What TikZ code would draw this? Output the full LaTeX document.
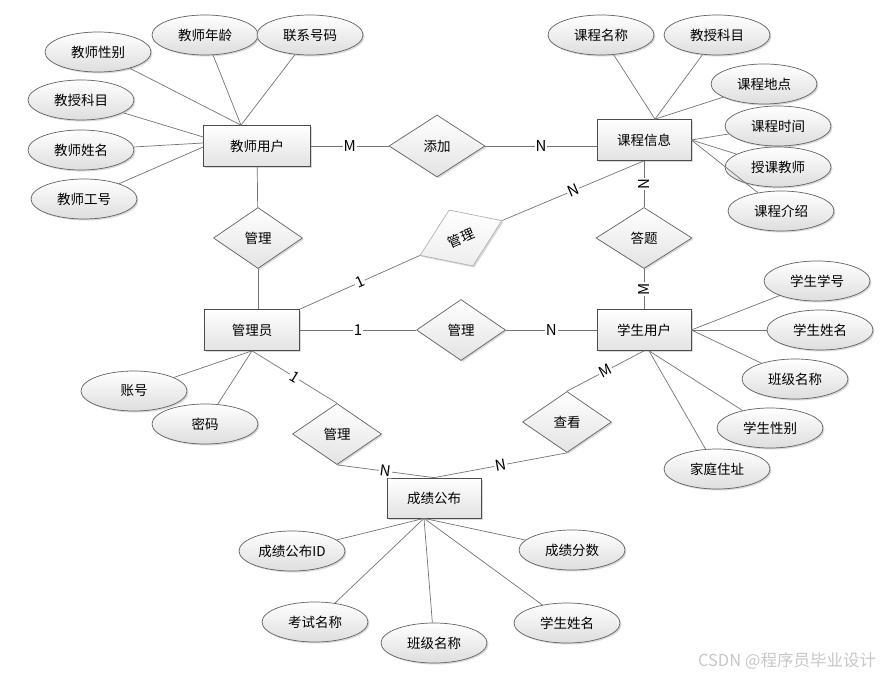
\documentclass[tikz,border=0pt]{standalone}
\usepackage{fontspec}
\setmainfont{Noto Sans CJK SC}
\usepackage{tikz}
\usetikzlibrary{shapes.geometric,shadows}

\begin{document}
\begin{tikzpicture}[x=1pt,y=-1pt,draw=black!55,line width=0.7pt,font=\fontsize{13.5}{16}\selectfont]
    \tikzstyle{shade}=[drop shadow={shadow xshift=1.5pt,shadow yshift=-1.5pt,opacity=0.25,fill=black!60}]
    \tikzstyle{entity}=[rectangle,draw=black!70,top color=white,bottom color=black!11,minimum width=94pt,minimum height=41pt,inner sep=0pt,shade]
    \tikzstyle{attr}=[ellipse,draw=black!62,top color=white,bottom color=black!13,minimum width=106pt,minimum height=40pt,inner sep=0pt,shade]
    \tikzstyle{relation}=[diamond,draw=black!62,top color=white,bottom color=black!11,minimum width=89pt,minimum height=61pt,inner sep=0pt,shade]
    \tikzstyle{card}=[midway,fill=white,inner sep=1pt,font=\fontsize{15}{15}\selectfont]

    \useasboundingbox (0,0) rectangle (881,676);

    % Draw the entities
    \node[entity, minimum width=107pt] (E-1) at (257,146) {教师用户};
    \node[entity] (E-2) at (644,140) {课程信息};
    \node[entity, minimum width=95pt] (E-3) at (252,330) {管理员};
    \node[entity] (E-4) at (644,330) {学生用户};
    \node[entity, minimum height=40pt] (E-5) at (434,498) {成绩公布};

    % Draw the relations
    \node[relation, minimum width=96pt, minimum height=62pt] (R-1) at (437,146) {添加};
    \node[relation] (R-2) at (258,238) {管理};
    \node[relation, rotate=23, draw=black!30, bottom color=black!7, drop shadow={opacity=0}] (R-3) at (461,238) {管理};
    \node[relation, minimum width=96pt] (R-4) at (644,238) {答题};
    \node[relation] (R-5) at (461,330) {管理};
    \node[relation] (R-6) at (337,434) {管理};
    \node[relation] (R-7) at (567,422) {查看};

    % Draw the attributes
    \node[attr] (A-11) at (98,52) {教师性别};
    \node[attr] (A-12) at (205,35) {教师年龄};
    \node[attr] (A-13) at (310,35) {联系号码};
    \node[attr] (A-14) at (81,100) {教授科目};
    \node[attr] (A-15) at (81,150) {教师姓名};
    \node[attr] (A-16) at (84,199) {教师工号};

    \node[attr] (A-21) at (601,35) {课程名称};
    \node[attr] (A-22) at (717,35) {教授科目};
    \node[attr] (A-23) at (764,84) {课程地点};
    \node[attr] (A-24) at (778,126) {课程时间};
    \node[attr] (A-25) at (778,167) {授课教师};
    \node[attr] (A-26) at (781,211) {课程介绍};

    \node[attr] (A-31) at (134,391) {账号};
    \node[attr] (A-32) at (205,424) {密码};

    \node[attr] (A-41) at (817,281) {学生学号};
    \node[attr] (A-42) at (820,330) {学生姓名};
    \node[attr] (A-43) at (795,379) {班级名称};
    \node[attr] (A-44) at (770,428) {学生性别};
    \node[attr] (A-45) at (717,469) {家庭住址};

    \node[attr] (A-51) at (292,551) {成绩公布ID};
    \node[attr] (A-52) at (315,622) {考试名称};
    \node[attr] (A-53) at (434,643) {班级名称};
    \node[attr] (A-54) at (567,623) {学生姓名};
    \node[attr] (A-55) at (572,550) {成绩分数};

    % Points where the attribute lines meet
    \coordinate (T-t) at ([xshift=-16pt]E-1.north);
    \coordinate (T-w1) at ([yshift=9pt]E-1.west);
    \coordinate (T-w2) at ([yshift=3pt]E-1.west);
    \coordinate (T-w3) at ([yshift=-1pt]E-1.west);
    \coordinate (C-t) at ([xshift=11pt]E-2.north);
    \coordinate (S-b) at ([xshift=5pt]E-4.south);
    \coordinate (G-b) at ([xshift=-10pt]E-5.south);

    \path (A-11) edge (T-t);
    \path (A-12) edge (T-t);
    \path (A-13) edge (T-t);
    \path (A-14) edge (T-w1);
    \path (A-15) edge (T-w2);
    \path (A-16) edge (T-w3);
    \path (A-21) edge (C-t);
    \path (A-22) edge (C-t);
    \path (A-23) edge (C-t);
    \path (A-24) edge (E-2.east);
    \path (A-25) edge (E-2.east);
    \path (A-26) edge (E-2.east);
    \path (A-31) edge (E-3.south);
    \path (A-32) edge (E-3.south);
    \path (A-41) edge (E-4.east);
    \path (A-42) edge (E-4.east);
    \path (A-43) edge (E-4.east);
    \path (A-44) edge (S-b);
    \path (A-45) edge (S-b);
    \path (A-51) edge (G-b);
    \path (A-52) edge (G-b);
    \path (A-53) edge (G-b);
    \path (A-54) edge (G-b);
    \path (A-55) edge (G-b);

    % Connect entities and relations
    \path (E-1) edge node[card] {M} (R-1);
    \path (R-1) edge node[card] {N} (R-1 -| E-2.west);
    \path (E-1) edge (R-2);
    \path (R-2) edge (R-2 |- E-3.north);
    \path (E-3.north east) edge node[card, sloped] {1} (R-3.west);
    \path (R-3.east) edge node[card, sloped] {N} (E-2.south);
    \path (E-2) edge node[card, rotate=90] {N} (R-4);
    \path (R-4) edge node[card, rotate=90] {M} (E-4);
    \path (E-3) edge node[card] {1} (R-5);
    \path (R-5) edge node[card] {N} (E-4);
    \path (E-3.south) edge node[card, sloped] {1} (R-6.north);
    \path (R-6.south) edge node[card, sloped] {N} (E-5.north);
    \path (R-7.south) edge node[card, sloped] {N} (E-5.north);
    \path (E-4.south) edge node[card, sloped] {M} (R-7.north);

    \node[text=black!22, font=\fontsize{16.5}{18}\selectfont] (WM) at (787,661) {CSDN @程序员毕业设计};
\end{tikzpicture}
\end{document}
